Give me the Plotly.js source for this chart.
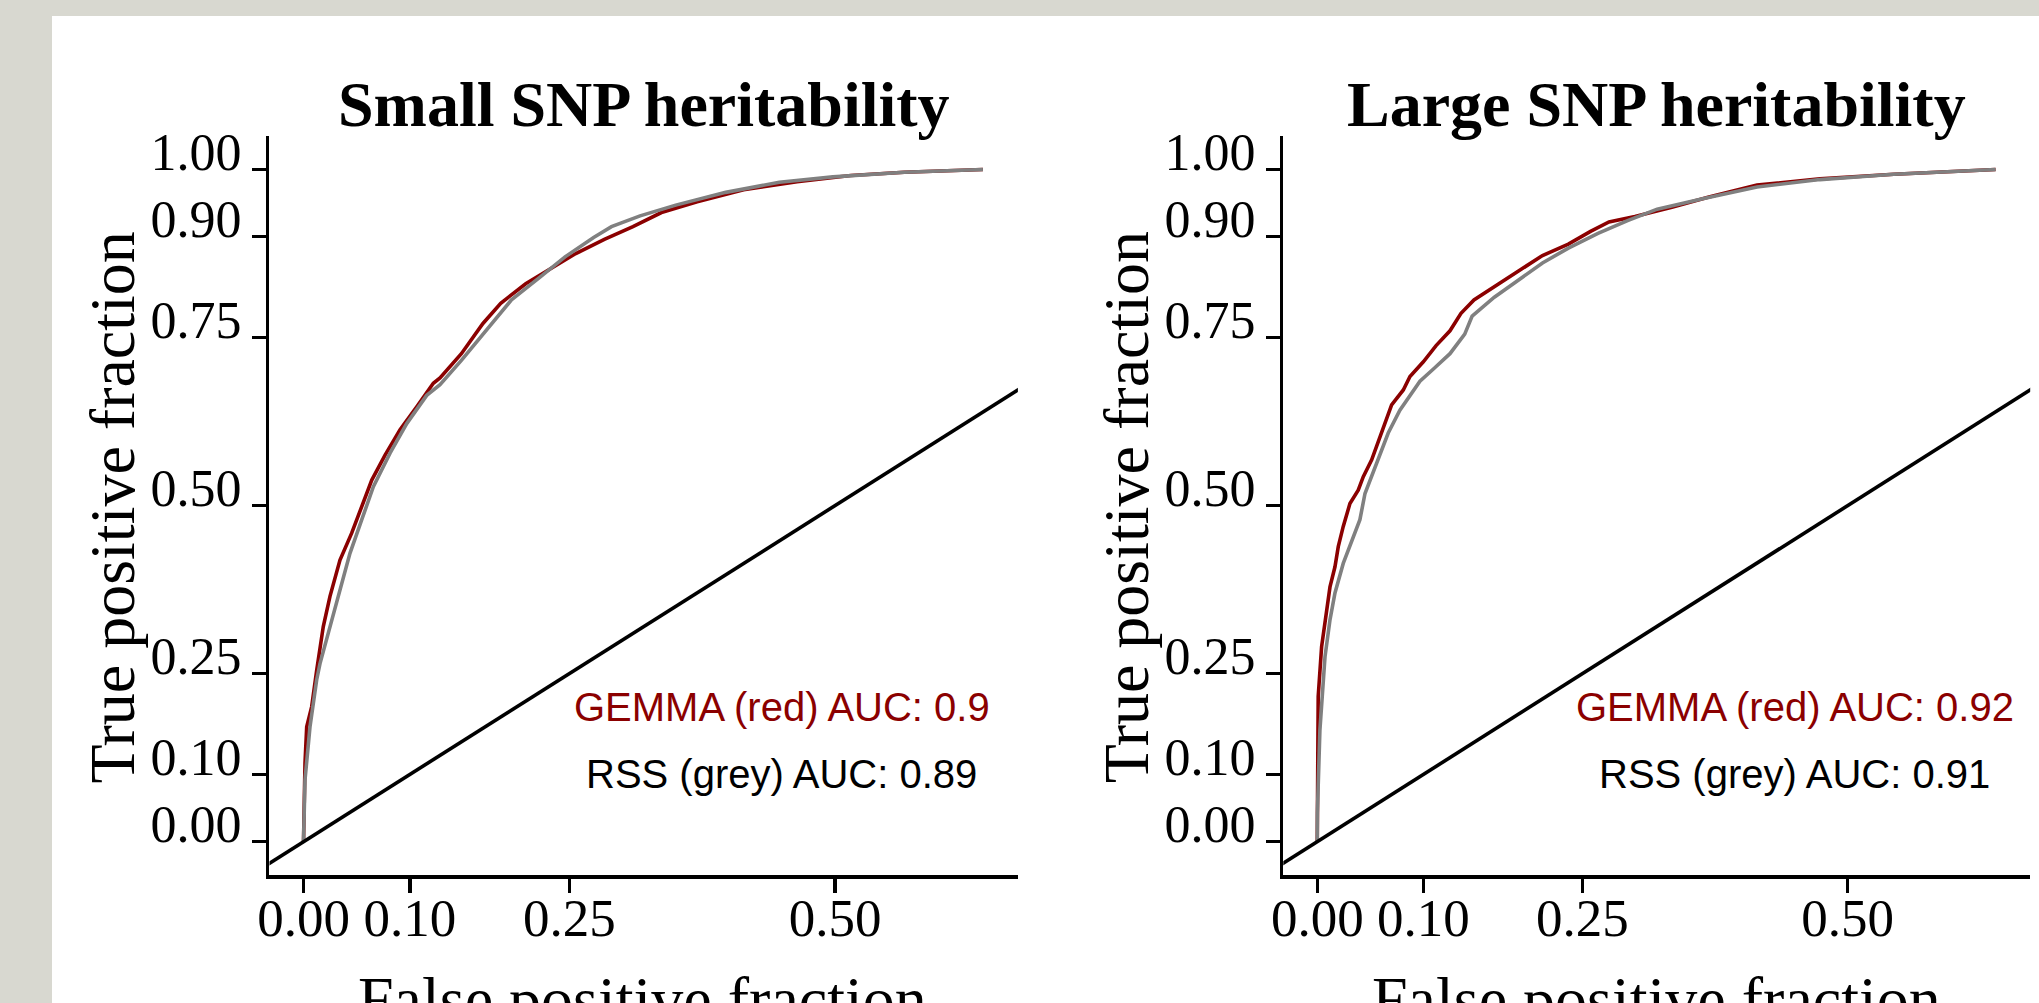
<!DOCTYPE html>
<html>
<head>
<meta charset="utf-8">
<script src="https://cdn.plot.ly/plotly-3.0.1.min.js"></script>
<style>
html,body{margin:0;padding:0;background:#D8D8D0;}
#chart{width:2039px;height:1003px;}
</style>
</head>
<body>
<div id="chart"></div>
<script>
// ---- data ----
const panelTitles = ['Small SNP heritability', 'Large SNP heritability'];

const smallGemmaFpr = [0, 0.0005, 0.0014, 0.0030, 0.0077, 0.0124, 0.0186, 0.0249, 0.0343, 0.0453, 0.0548, 0.0642, 0.0767, 0.0908, 0.1065, 0.1221, 0.1284, 0.1485, 0.1688, 0.1855, 0.2090, 0.2259, 0.2561, 0.2830, 0.3099, 0.3367, 0.3703, 0.4140, 0.4643, 0.5148, 0.5652, 0.6391];
const smallGemmaTpr = [0, 0.050, 0.117, 0.171, 0.201, 0.255, 0.320, 0.365, 0.419, 0.459, 0.498, 0.538, 0.575, 0.613, 0.647, 0.682, 0.690, 0.726, 0.771, 0.801, 0.830, 0.846, 0.875, 0.896, 0.915, 0.936, 0.952, 0.970, 0.982, 0.991, 0.996, 1.000];

const smallRssFpr = [0, 0.0005, 0.0014, 0.0061, 0.0124, 0.0155, 0.0249, 0.0343, 0.0437, 0.0548, 0.0657, 0.0814, 0.0971, 0.1159, 0.1284, 0.1485, 0.1688, 0.1956, 0.2225, 0.2460, 0.2729, 0.2897, 0.3166, 0.3501, 0.3972, 0.4476, 0.4980, 0.5652, 0.6391];
const smallRssTpr = [0, 0.040, 0.092, 0.171, 0.241, 0.265, 0.320, 0.370, 0.429, 0.479, 0.528, 0.578, 0.622, 0.664, 0.680, 0.716, 0.755, 0.806, 0.840, 0.870, 0.899, 0.915, 0.931, 0.947, 0.966, 0.981, 0.989, 0.996, 1.000];

const largeGemmaFpr = [0, 0.0002, 0.0003, 0.0009, 0.0041, 0.0073, 0.0120, 0.0167, 0.0198, 0.0245, 0.0308, 0.0386, 0.0434, 0.0513, 0.0591, 0.0701, 0.0811, 0.0874, 0.1000, 0.1120, 0.1251, 0.1355, 0.1477, 0.1669, 0.1878, 0.2123, 0.2367, 0.2576, 0.2750, 0.2994, 0.3343, 0.3692, 0.4145, 0.4738, 0.5435, 0.6394];
const largeGemmaTpr = [0, 0.090, 0.141, 0.216, 0.290, 0.330, 0.379, 0.409, 0.439, 0.469, 0.503, 0.523, 0.543, 0.568, 0.603, 0.650, 0.672, 0.692, 0.714, 0.738, 0.760, 0.786, 0.806, 0.826, 0.847, 0.872, 0.889, 0.908, 0.922, 0.930, 0.944, 0.959, 0.977, 0.986, 0.993, 1.000];

const largeRssFpr = [0, 0.0001, 0.0025, 0.0073, 0.0120, 0.0167, 0.0245, 0.0339, 0.0402, 0.0450, 0.0560, 0.0669, 0.0779, 0.0905, 0.0968, 0.1100, 0.1251, 0.1390, 0.1460, 0.1669, 0.1878, 0.2123, 0.2367, 0.2646, 0.2925, 0.3204, 0.3622, 0.4145, 0.4738, 0.5435, 0.6394];
const largeRssTpr = [0, 0.043, 0.166, 0.275, 0.330, 0.370, 0.414, 0.454, 0.479, 0.518, 0.563, 0.608, 0.642, 0.672, 0.685, 0.704, 0.726, 0.755, 0.782, 0.810, 0.833, 0.861, 0.883, 0.905, 0.924, 0.941, 0.956, 0.974, 0.985, 0.993, 1.000];

const gemmaAuc = ['0.9', '0.92'];
const rssAuc = ['0.89', '0.91'];

const diagonal = [-0.1, 1.1];

const xTickVals = [0, 0.10, 0.25, 0.50];
const xTickText = ['0.00', '0.10', '0.25', '0.50'];
const yTickVals = [0, 0.10, 0.25, 0.50, 0.75, 0.90, 1.00];
const yTickText = ['0.00', '0.10', '0.25', '0.50', '0.75', '0.90', '1.00'];

const xAxisTitle = 'False positive fraction';
const yAxisTitle = 'True positive fraction';

// ---- styling ----
const SERIF = 'Liberation Serif, Times New Roman, serif';
const SANS = 'Liberation Sans, Arial, Helvetica, sans-serif';
const RED = '#8B0000';
const GREY = '#808080';
const W = 2039, H = 1003;

const xDomains = [[0.13217, 0.49921], [0.62938, 0.99568]];
const yDomain = [0.12732, 0.86451];

function line(x, y, color, width, xa, ya) {
  return {x: x, y: y, type: 'scatter', mode: 'lines', xaxis: xa, yaxis: ya,
          line: {color: color, width: width}, hoverinfo: 'skip', showlegend: false};
}

const traces = [
  line(smallGemmaFpr, smallGemmaTpr, RED, 3.6, 'x', 'y'),
  line(smallRssFpr, smallRssTpr, GREY, 3.6, 'x', 'y'),
  line(diagonal, diagonal, '#000', 3.6, 'x', 'y'),
  line(largeGemmaFpr, largeGemmaTpr, RED, 3.6, 'x2', 'y2'),
  line(largeRssFpr, largeRssTpr, GREY, 3.6, 'x2', 'y2'),
  line(diagonal, diagonal, '#000', 3.6, 'x2', 'y2')
];

function xAxis(domain, anchor) {
  return {domain: domain, anchor: anchor, range: [-0.032, 0.672],
    tickmode: 'array', tickvals: xTickVals, ticktext: xTickText, tickangle: 0,
    ticks: 'outside', ticklen: 14, tickwidth: 3.5, tickcolor: '#000',
    showline: true, linewidth: 3.5, linecolor: '#000',
    showgrid: false, zeroline: false, fixedrange: true,
    tickfont: {family: SERIF, size: 53, color: '#000'}, ticklabelstandoff: -20};
}
function yAxis(anchor) {
  return {domain: yDomain, anchor: anchor, range: [-0.05, 1.05],
    tickmode: 'array', tickvals: yTickVals, ticktext: yTickText,
    ticks: 'outside', ticklen: 14, tickwidth: 3.5, tickcolor: '#000',
    showline: true, linewidth: 3.5, linecolor: '#000',
    showgrid: false, zeroline: false, fixedrange: true,
    tickfont: {family: SERIF, size: 52, color: '#000'},
    ticklabelshift: -18, ticklabelstandoff: 0};
}

const annotations = [];
const xr = ['x', 'x2'], yr = ['y', 'y2'];
for (let i = 0; i < 2; i++) {
  const cx = (xDomains[i][0] + xDomains[i][1]) / 2;
  const left = xDomains[i][0] * W;
  annotations.push({xref: 'paper', yref: 'paper', x: cx, y: 1 - 104 / H,
    xanchor: 'center', yanchor: 'middle', showarrow: false,
    text: '<b>' + panelTitles[i] + '</b>', font: {family: SERIF, size: 64, color: '#000'}});
  annotations.push({xref: 'paper', yref: 'paper', x: (left + 373) / W,
    y: 1 - 962 / H, xanchor: 'center', yanchor: 'top', showarrow: false,
    text: xAxisTitle, font: {family: SERIF, size: 64, color: '#000'}});
  annotations.push({xref: 'paper', yref: 'paper', x: (left - 269.5 + 112.4) / W,
    y: 1 - 507 / H, xanchor: 'center', yanchor: 'middle', textangle: -90, showarrow: false,
    text: yAxisTitle, font: {family: SERIF, size: 64, color: '#000'}});
  annotations.push({xref: xr[i], yref: yr[i], x: 0.45, y: 0.2, xanchor: 'center', yanchor: 'middle',
    showarrow: false, text: 'GEMMA (red) AUC: ' + gemmaAuc[i], font: {family: SANS, size: 40, color: RED}});
  annotations.push({xref: xr[i], yref: yr[i], x: 0.45, y: 0.1, xanchor: 'center', yanchor: 'middle',
    showarrow: false, text: 'RSS (grey) AUC: ' + rssAuc[i], font: {family: SANS, size: 40, color: '#000'}});
}

const layout = {
  width: W, height: H,
  margin: {l: 0, r: 0, t: 0, b: 0, pad: 0},
  paper_bgcolor: '#D8D8D0',
  plot_bgcolor: '#FFFFFF',
  showlegend: false,
  xaxis: xAxis(xDomains[0], 'y'),
  yaxis: yAxis('x'),
  xaxis2: xAxis(xDomains[1], 'y2'),
  yaxis2: yAxis('x2'),
  shapes: [{type: 'rect', xref: 'paper', yref: 'paper', x0: 52 / W, x1: 1, y0: 0, y1: 1 - 16 / H,
            fillcolor: '#FFFFFF', line: {width: 0}, layer: 'below'}],
  annotations: annotations
};

Plotly.newPlot('chart', traces, layout, {displayModeBar: false, staticPlot: true});
</script>
</body>
</html>
